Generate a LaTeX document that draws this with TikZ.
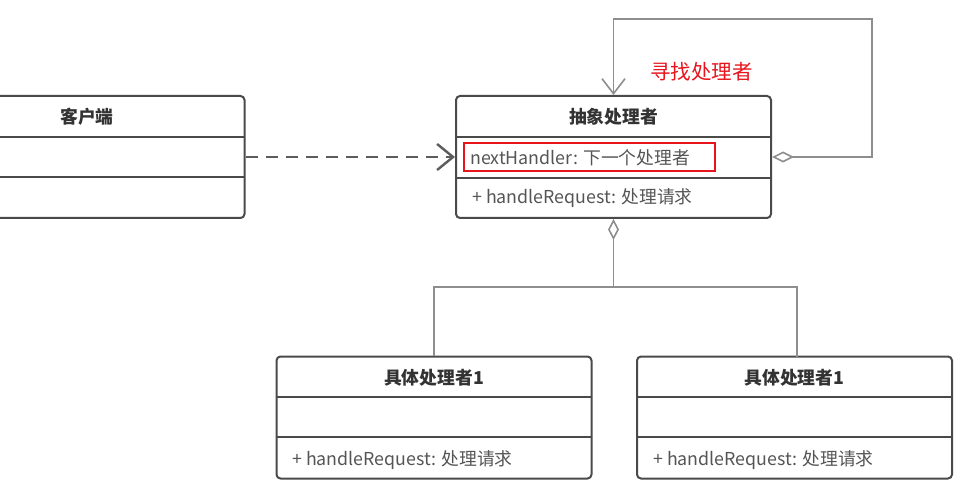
\documentclass[tikz,border=0pt]{standalone}
\usepackage{fontspec}
\setmainfont{Noto Sans CJK SC}
\usetikzlibrary{arrows.meta}
\definecolor{boxline}{HTML}{4A4A4A}
\definecolor{conn}{HTML}{8E8E8E}
\definecolor{titletxt}{HTML}{333333}
\definecolor{attrtxt}{HTML}{555555}
\definecolor{mark}{HTML}{E8141C}
\tikzset{
  classbox/.style={draw=boxline, line width=2pt, rounded corners=4pt, minimum width=315pt, minimum height=122pt, inner sep=0pt, fill=white},
  divider/.style={draw=boxline, line width=2pt},
  titlestyle/.style={font=\fontsize{17.8}{20}\selectfont\bfseries, text=titletxt, inner sep=0pt},
  attrstyle/.style={font=\fontsize{17.8}{20}\selectfont, text=attrtxt, inner sep=0pt, anchor=west},
  connline/.style={draw=conn, line width=1.6pt},
  dashline/.style={draw=boxline!90, line width=2.6pt, dash pattern=on 12pt off 8pt},
}
\begin{document}
\begin{tikzpicture}[x=1pt,y=-1pt]
\useasboundingbox (0,0) rectangle (958,486);
\clip (0,0) rectangle (958,486);
% client
\node[classbox] (client) at (87,157) {};
\draw[divider] (-70,137) -- (244,137);
\draw[divider] (-70,177) -- (244,177);
\node[titlestyle] (clientT) at (87,117) {客户端};
% abstract handler
\node[classbox] (abs) at (613.5,157) {};
\draw[divider] (456,137) -- (771,137);
\draw[divider] (456,178) -- (771,178);
\node[titlestyle] (absT) at (613.5,117) {抽象处理者};
\node[attrstyle] (absA) at (470,158) {nextHandler: 下一个处理者};
\node[attrstyle] (absM) at (472,198) {+ handleRequest: 处理请求};
\node[draw=mark, line width=2.5pt, minimum width=251pt, minimum height=28pt, inner sep=0pt] (redbox) at (589.5,157) {};
% concrete 1
\node[classbox] (c1) at (434,417.5) {};
\draw[divider] (277,397) -- (591,397);
\draw[divider] (277,437) -- (591,437);
\node[titlestyle] (c1T) at (434,378) {具体处理者1};
\node[attrstyle] (c1M) at (292,460) {+ handleRequest: 处理请求};
% concrete 2
\node[classbox] (c2) at (794.5,417.5) {};
\draw[divider] (637,397) -- (952,397);
\draw[divider] (637,437) -- (952,437);
\node[titlestyle] (c2T) at (794.5,378) {具体处理者1};
\node[attrstyle] (c2M) at (653,460) {+ handleRequest: 处理请求};
% dependency
\draw[dashline, -{Straight Barb[length=16pt,width=26pt,line width=2.4pt]}] (client.east) -- (abs.west);
% self aggregation loop
\coordinate (loopR) at (872,19);
\draw[connline, {Diamond[open,length=22pt,width=11pt,line width=1.6pt]}-{Straight Barb[length=15pt,width=23pt,line width=1.6pt]}]
  (abs.east) -- (872,157) -- (loopR) -- (613.5,19) -- (abs.north);
\node[font=\fontsize{20.5}{22}\selectfont, text=mark, inner sep=0pt] (lbl) at (701.5,72) {寻找处理者};
% aggregation to concretes
\coordinate (junc) at (613.5,287);
\draw[connline, {Diamond[open,length=21pt,width=11pt,line width=1.6pt]}-] (abs.south) -- (junc);
\draw[connline] (junc) -- (434,287) -- (c1.north);
\draw[connline] (junc) -- (797,287) -- (797,357);
\end{tikzpicture}
\end{document}
